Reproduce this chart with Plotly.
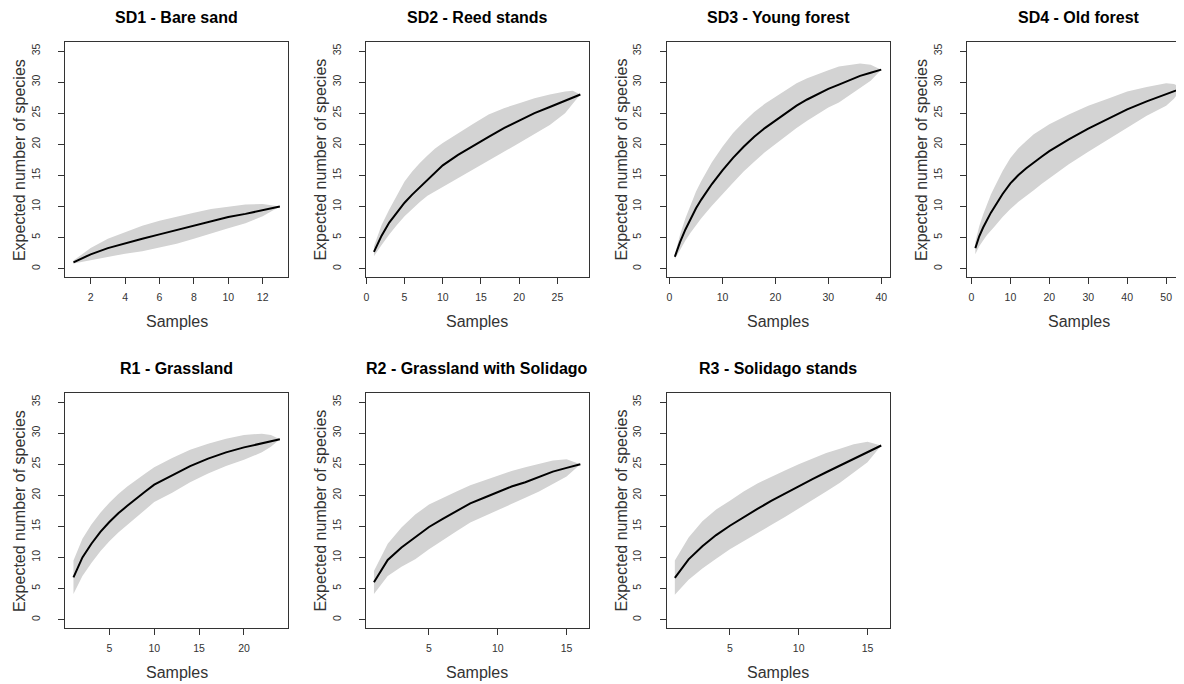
import plotly.graph_objects as go

# ---------------- data ----------------
titles = ["SD1 - Bare sand", "SD2 - Reed stands", "SD3 - Young forest", "SD4 - Old forest",
          "R1 - Grassland", "R2 - Grassland with Solidago", "R3 - Solidago stands"]
n_samples = [13, 28, 40, 54, 24, 16, 16]

sd1_x = [1, 2, 3, 4, 5, 6, 7, 8, 9, 10, 11, 12, 13]
sd1_mean = [1.0, 2.3, 3.3, 4.1, 4.8, 5.5, 6.2, 6.9, 7.6, 8.3, 8.8, 9.4, 10.0]
sd1_upper = [1.3, 3.3, 4.8, 5.9, 6.9, 7.7, 8.4, 9.0, 9.6, 10.0, 10.3, 10.4, 10.0]
sd1_lower = [0.8, 1.4, 1.9, 2.4, 2.8, 3.4, 4.0, 4.8, 5.6, 6.5, 7.3, 8.4, 10.0]

sd2_x = [1, 2, 3, 4, 5, 6, 7, 8, 9, 10, 12, 14, 16, 18, 20, 22, 24, 26, 27, 28]
sd2_mean = [2.7, 5.3, 7.4, 9.1, 10.6, 11.9, 13.1, 14.3, 15.5, 16.6, 18.3, 19.8, 21.2, 22.6, 23.8, 25.0, 26.0, 27.0, 27.5, 28.0]
sd2_upper = [3.6, 7.0, 9.5, 11.8, 14.0, 15.6, 17.0, 18.2, 19.3, 20.2, 21.8, 23.3, 24.8, 25.8, 26.6, 27.4, 28.0, 28.5, 28.6, 28.0]
sd2_lower = [2.0, 3.8, 5.5, 7.0, 8.4, 9.6, 10.7, 11.7, 12.5, 13.2, 14.6, 16.0, 17.4, 18.8, 20.2, 21.6, 23.1, 25.0, 26.5, 28.0]

sd3_x = [1, 2, 3, 4, 5, 6, 8, 10, 12, 14, 16, 18, 20, 22, 24, 26, 28, 30, 32, 34, 36, 38, 40]
sd3_mean = [1.9, 4.3, 6.3, 8.1, 9.7, 11.1, 13.6, 15.8, 17.8, 19.6, 21.2, 22.6, 23.8, 25.0, 26.2, 27.2, 28.1, 28.9, 29.6, 30.3, 31.0, 31.5, 32.0]
sd3_upper = [2.3, 5.5, 8.1, 10.4, 12.4, 14.1, 17.1, 19.6, 21.8, 23.6, 25.2, 26.5, 27.6, 28.7, 29.8, 30.6, 31.3, 31.9, 32.5, 32.8, 33.0, 32.8, 32.0]
sd3_lower = [1.5, 3.1, 4.5, 5.8, 7.0, 8.1, 10.1, 12.0, 13.8, 15.6, 17.2, 18.7, 20.0, 21.3, 22.6, 23.8, 24.9, 25.9, 26.7, 27.8, 29.0, 30.2, 32.0]

sd4_x = [1, 2, 3, 4, 5, 6, 8, 10, 12, 14, 16, 18, 20, 25, 30, 35, 40, 45, 50, 52, 54]
sd4_mean = [3.3, 5.2, 6.6, 7.9, 9.0, 10.0, 12.0, 13.7, 15.0, 16.1, 17.1, 18.0, 18.9, 20.8, 22.5, 24.0, 25.6, 26.9, 28.0, 28.5, 29.0]
sd4_upper = [4.3, 6.8, 8.7, 10.4, 11.9, 13.2, 15.7, 17.8, 19.3, 20.5, 21.6, 22.4, 23.2, 24.8, 26.2, 27.3, 28.5, 29.2, 29.8, 29.7, 29.0]
sd4_lower = [2.3, 3.6, 4.5, 5.4, 6.1, 6.8, 8.3, 9.6, 10.7, 11.7, 12.6, 13.6, 14.6, 16.8, 18.8, 20.7, 22.7, 24.6, 26.2, 27.3, 29.0]

r1_x = [1, 2, 3, 4, 5, 6, 7, 8, 9, 10, 12, 14, 16, 18, 20, 22, 23, 24]
r1_mean = [6.8, 10.0, 12.2, 14.1, 15.7, 17.1, 18.3, 19.5, 20.6, 21.7, 23.2, 24.7, 25.9, 26.9, 27.7, 28.4, 28.7, 29.0]
r1_upper = [9.5, 13.0, 15.3, 17.2, 18.8, 20.2, 21.4, 22.5, 23.5, 24.5, 26.0, 27.3, 28.3, 29.1, 29.7, 29.9, 29.7, 29.0]
r1_lower = [4.1, 7.0, 9.1, 11.0, 12.6, 14.0, 15.2, 16.5, 17.7, 18.9, 20.4, 22.1, 23.5, 24.7, 25.7, 26.9, 27.8, 29.0]

r2_x = [1, 2, 3, 4, 5, 6, 7, 8, 9, 10, 11, 12, 13, 14, 15, 16]
r2_mean = [6.0, 9.6, 11.6, 13.2, 14.9, 16.2, 17.4, 18.7, 19.6, 20.5, 21.4, 22.1, 22.9, 23.8, 24.4, 25.0]
r2_upper = [7.8, 12.2, 14.8, 16.9, 18.5, 19.6, 20.6, 21.6, 22.4, 23.2, 23.9, 24.5, 25.1, 25.6, 25.8, 25.0]
r2_lower = [4.1, 7.0, 8.5, 9.7, 11.3, 12.8, 14.2, 15.6, 16.6, 17.6, 18.6, 19.6, 20.6, 21.8, 23.0, 25.0]

r3_x = [1, 2, 3, 4, 5, 6, 7, 8, 9, 10, 11, 12, 13, 14, 15, 16]
r3_mean = [6.7, 9.7, 11.8, 13.6, 15.1, 16.5, 17.8, 19.1, 20.3, 21.5, 22.6, 23.7, 24.8, 25.9, 27.0, 28.0]
r3_upper = [9.5, 13.2, 15.8, 17.7, 19.1, 20.6, 21.9, 23.0, 24.0, 25.0, 25.9, 26.8, 27.5, 28.2, 28.6, 28.0]
r3_lower = [4.0, 6.4, 8.2, 9.8, 11.3, 12.6, 13.9, 15.2, 16.5, 17.8, 19.2, 20.6, 22.0, 23.6, 25.3, 28.0]

x_dticks = [2, 5, 10, 10, 5, 5, 5]
y_tick_step = 5
y_limits = [0, 35]
x_label = "Samples"
y_label = "Expected number of species"

series = [
    (sd1_x, sd1_mean, sd1_upper, sd1_lower),
    (sd2_x, sd2_mean, sd2_upper, sd2_lower),
    (sd3_x, sd3_mean, sd3_upper, sd3_lower),
    (sd4_x, sd4_mean, sd4_upper, sd4_lower),
    (r1_x, r1_mean, r1_upper, r1_lower),
    (r2_x, r2_mean, r2_upper, r2_lower),
    (r3_x, r3_mean, r3_upper, r3_lower),
]

# ---------------- layout geometry (screen pixels of the reference) ----------------
SCREEN_W, SCREEN_H = 1184, 684
OFF = 8                       # page body margin
W, H = SCREEN_W - OFF, SCREEN_H - OFF
col_left = [63.3, 364.3, 665.7, 966.7]
box_w = 223.3
row_top = [42.3, 393.3]
box_h = 235.0
FONT = "Liberation Sans, Arial, sans-serif"
BAND = "#d3d3d3"
AXC = "#333333"


def px(p):
    return (p - OFF) / W


def py(p):
    return 1 - (p - OFF) / H


fig = go.Figure()
annotations = []

for i, (xs, mean, up, lo) in enumerate(series):
    r, c = divmod(i, 4)
    k = "" if i == 0 else str(i + 1)
    xa, ya = "x" + k, "y" + k
    xmin, xmax = 1, n_samples[i]
    pad = 0.04 * (xmax - xmin)
    x0, x1 = xmin - pad, xmax + pad
    left = col_left[c]
    right = left + box_w
    clipped = right > SCREEN_W
    if clipped:
        frac = (SCREEN_W - left) / box_w
        x1 = x0 + (x1 - x0) * frac
        right = SCREEN_W
    ypad = 0.04 * (y_limits[1] - y_limits[0])
    top = row_top[r]
    bottom = top + box_h

    fig.add_trace(go.Scatter(
        x=list(xs) + list(xs)[::-1], y=list(up) + list(lo)[::-1],
        fill="toself", fillcolor=BAND, line=dict(width=0), mode="lines",
        hoverinfo="skip", showlegend=False, xaxis=xa, yaxis=ya))
    fig.add_trace(go.Scatter(
        x=xs, y=mean, mode="lines", line=dict(color="black", width=2),
        showlegend=False, xaxis=xa, yaxis=ya))

    fig.layout["xaxis" + k] = dict(
        domain=[px(left), min(1.0, px(right))], anchor=ya, range=[x0, x1],
        dtick=x_dticks[i], tick0=0, showgrid=False, zeroline=False,
        showline=True, mirror=True, linecolor=AXC, linewidth=1,
        ticks="outside", ticklen=6, tickcolor=AXC, tickwidth=1,
        ticklabelstandoff=4,
        tickfont=dict(family=FONT, size=10.5, color="#333"))
    fig.layout["yaxis" + k] = dict(
        domain=[py(bottom), py(top)], anchor=xa,
        range=[y_limits[0] - ypad, y_limits[1] + ypad],
        dtick=y_tick_step, tick0=0, showgrid=False, zeroline=False,
        showline=True, mirror=not clipped, linecolor=AXC, linewidth=1,
        ticks="outside", ticklen=6, tickcolor=AXC, tickwidth=1,
        tickangle=-90, ticklabelstandoff=14,
        tickfont=dict(family=FONT, size=10.5, color="#333"))

    cx = px(left + box_w / 2)
    annotations.append(dict(
        text="<b>" + titles[i] + "</b>", x=cx, y=py(top - 25),
        xref="paper", yref="paper", showarrow=False, xanchor="center", yanchor="middle",
        font=dict(family=FONT, size=16, color="black")))
    annotations.append(dict(
        text=x_label, x=cx, y=py(bottom + 44),
        xref="paper", yref="paper", showarrow=False, xanchor="center", yanchor="middle",
        font=dict(family=FONT, size=16, color="#333")))
    annotations.append(dict(
        text=y_label, x=px(left - 45), y=py(top + box_h / 2),
        xref="paper", yref="paper", showarrow=False, xanchor="center", yanchor="middle",
        textangle=-90, font=dict(family=FONT, size=16, color="#333")))

fig.update_layout(
    width=W, height=H, margin=dict(l=0, r=0, t=0, b=0),
    paper_bgcolor="white", plot_bgcolor="white",
    annotations=annotations, showlegend=False)

fig.write_html("out.html", config={"displayModeBar": False})
